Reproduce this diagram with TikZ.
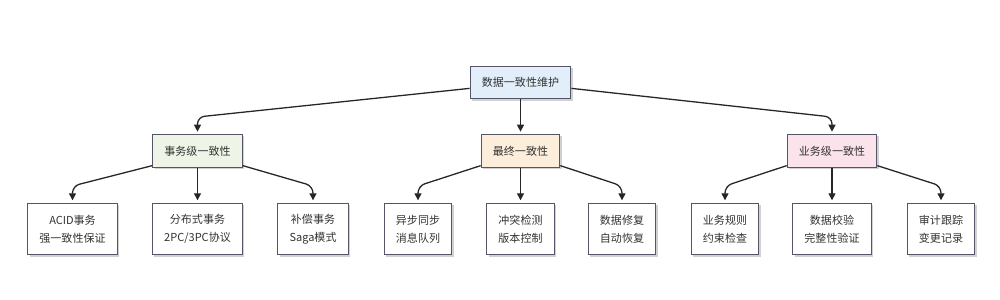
\documentclass[tikz,border=0pt]{standalone}
\usepackage{fontspec}
\setmainfont{Noto Sans CJK SC}
\usetikzlibrary{arrows.meta,shadows}
\definecolor{rootfill}{HTML}{E2EEFA}
\definecolor{txfill}{HTML}{EEF5E6}
\definecolor{evfill}{HTML}{FDEDDB}
\definecolor{bizfill}{HTML}{FBE3EC}
\definecolor{boxline}{HTML}{55556A}
\definecolor{txt}{HTML}{333333}
\begin{document}
\begin{tikzpicture}[x=0.03cm,y=-0.03cm,
  box/.style={draw=boxline,line width=1pt,text=txt,align=center,
    inner xsep=10pt,inner ysep=2pt,
    font=\fontsize{9.4}{15.3}\selectfont,
    drop shadow={shadow xshift=1.5pt,shadow yshift=-1.5pt,fill=black,opacity=0.18}},
  topbox/.style={box,minimum height=28pt},
  leafbox/.style={box,fill=white,minimum height=44pt},
  link/.style={line width=1.1pt,draw=black!85,rounded corners=6pt,
    -{Triangle[length=6pt,width=6pt]},shorten >=2pt}]
\useasboundingbox (0,0) rectangle (1000,299);
% root
\node[topbox,fill=rootfill] (root) at (520.5,82.5) {数据一致性维护};
% second level
\node[topbox,fill=txfill] (tx) at (197.5,151) {事务级一致性};
\node[topbox,fill=evfill] (ev) at (520.5,151) {最终一致性};
\node[topbox,fill=bizfill] (biz) at (832,151) {业务级一致性};
% leaves
\node[leafbox] (acid) at (72.5,229) {ACID事务\\强一致性保证};
\node[leafbox] (dist) at (197.5,229) {分布式事务\\2PC/3PC协议};
\node[leafbox] (saga) at (313,229) {补偿事务\\Saga模式};
\node[leafbox] (async) at (418,229) {异步同步\\消息队列};
\node[leafbox] (conflict) at (520.5,229) {冲突检测\\版本控制};
\node[leafbox] (repair) at (622,229) {数据修复\\自动恢复};
\node[leafbox] (rule) at (725,229) {业务规则\\约束检查};
\node[leafbox] (check) at (832,229) {数据校验\\完整性验证};
\node[leafbox] (audit) at (941,229) {审计跟踪\\变更记录};
% connectors
\draw[link] ([yshift=-5pt]root.west) -- (tx.north |- 0,117) -- (tx.north);
\draw[link] (root.south) -- (ev.north);
\draw[link] ([yshift=-5pt]root.east) -- (biz.north |- 0,117) -- (biz.north);
\draw[link] ([yshift=2pt]tx.south west) -- (acid.north |- 0,186) -- (acid.north);
\draw[link] (tx.south) -- (dist.north);
\draw[link] ([yshift=2pt]tx.south east) -- (saga.north |- 0,186) -- (saga.north);
\draw[link] ([yshift=2pt]ev.south west) -- (async.north |- 0,186) -- (async.north);
\draw[link] (ev.south) -- (conflict.north);
\draw[link] ([yshift=2pt]ev.south east) -- (repair.north |- 0,186) -- (repair.north);
\draw[link] ([yshift=2pt]biz.south west) -- (rule.north |- 0,186) -- (rule.north);
\draw[link] (biz.south) -- (check.north);
\draw[link] ([yshift=2pt]biz.south east) -- (audit.north |- 0,186) -- (audit.north);
\end{tikzpicture}
\end{document}
